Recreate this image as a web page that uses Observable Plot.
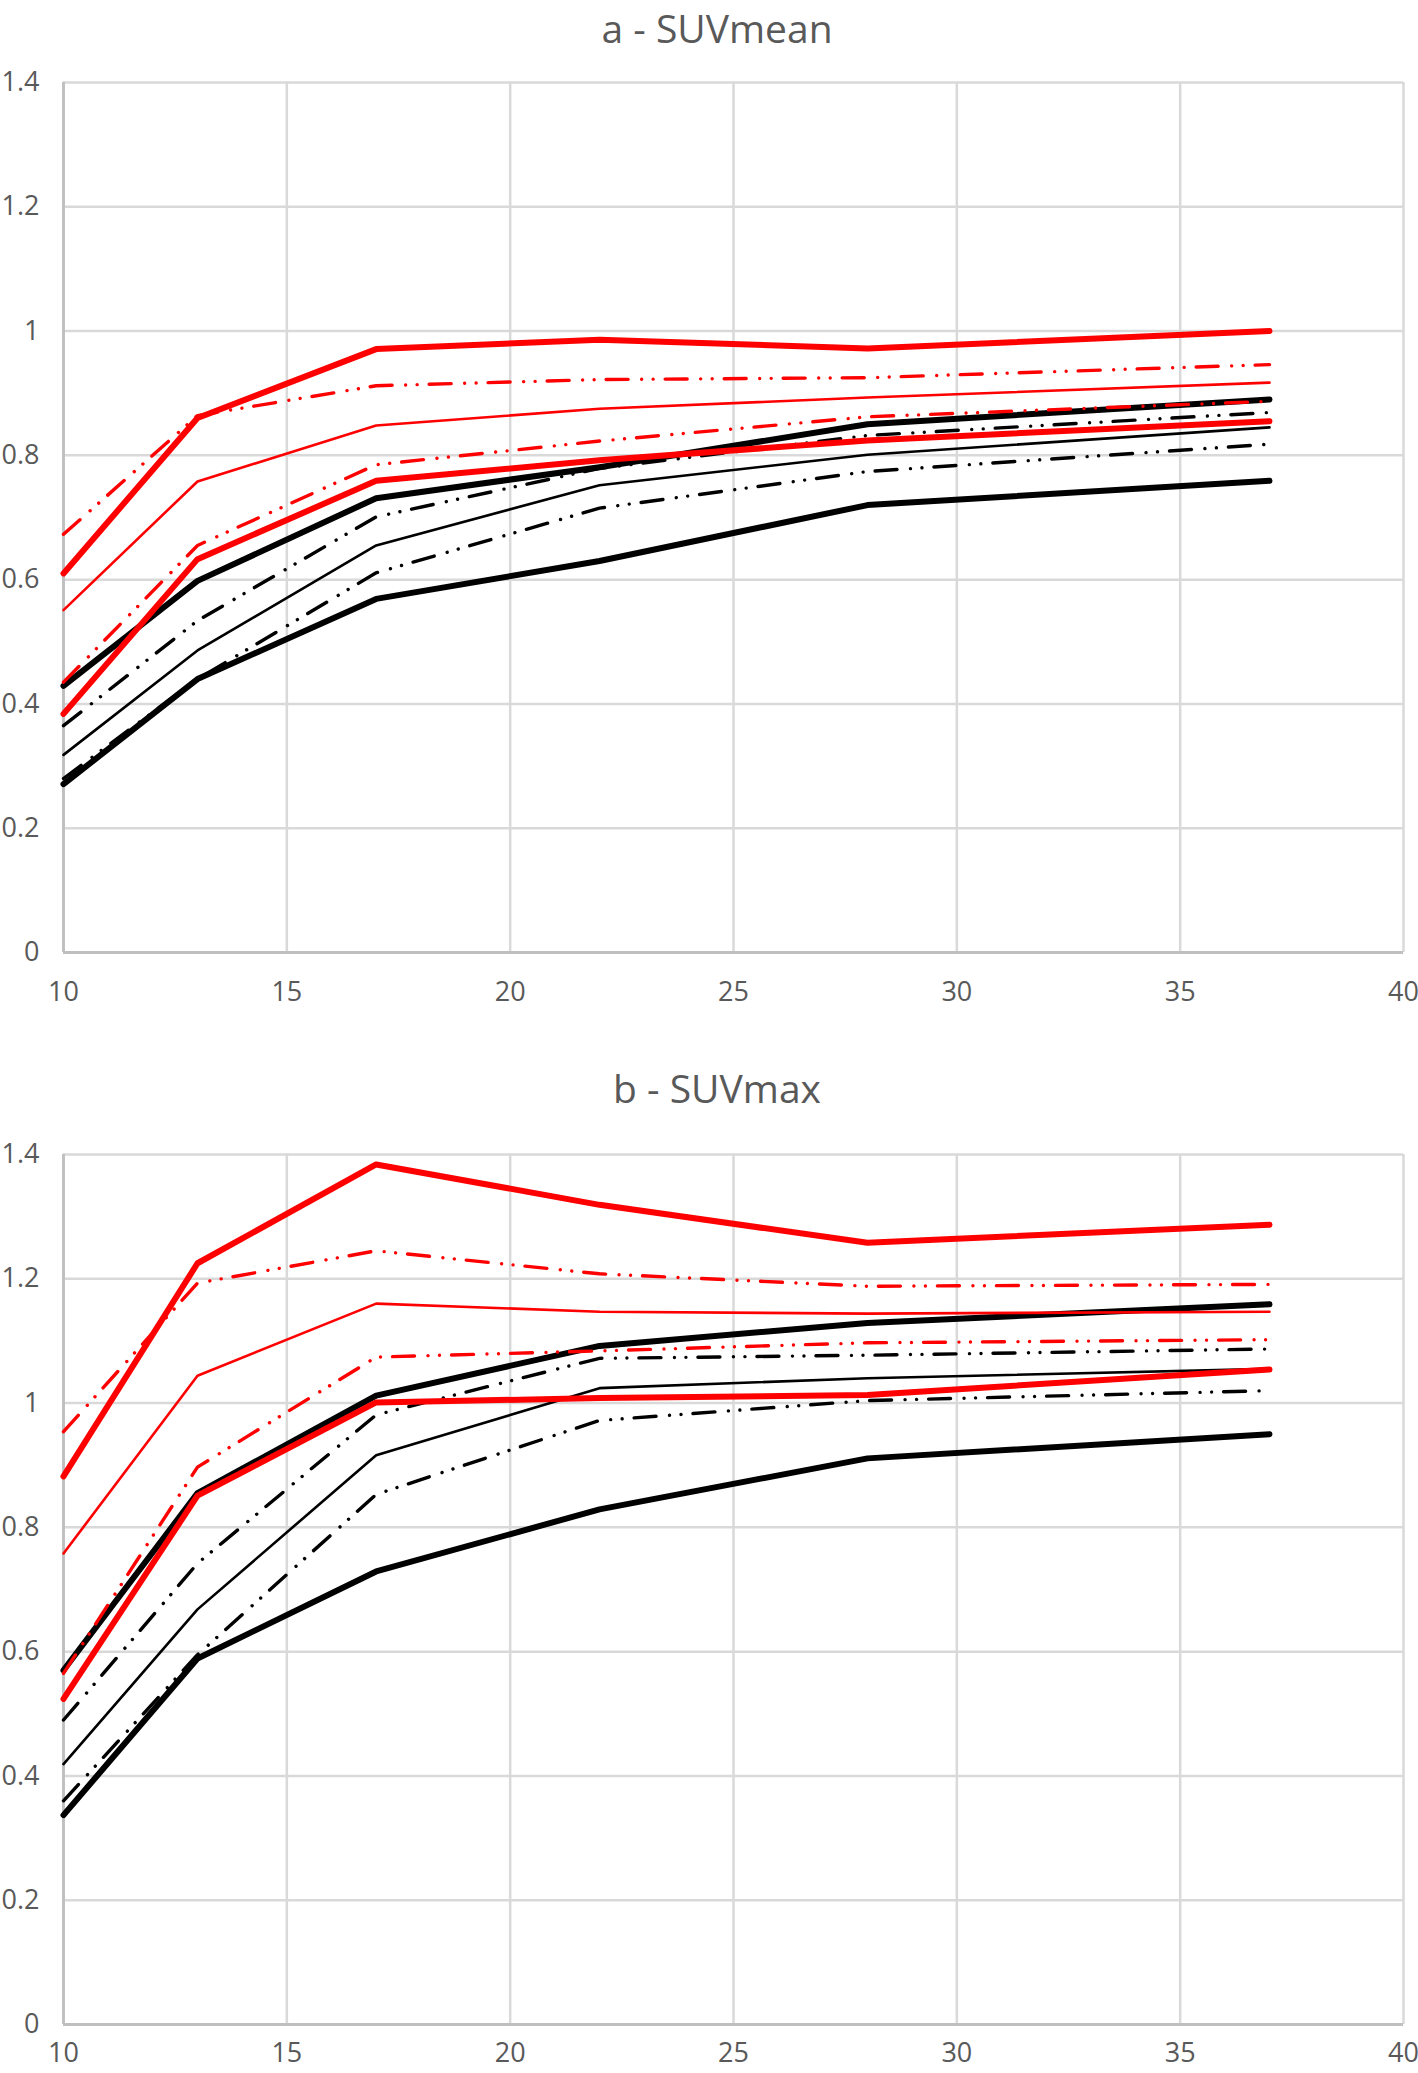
<!DOCTYPE html>
<html>
<head>
<meta charset="utf-8">
<script src="https://cdn.jsdelivr.net/npm/d3@7"></script>
<script src="https://cdn.jsdelivr.net/npm/@observablehq/plot@0.6"></script>
<style>
  html, body { margin: 0; padding: 0; background: #fff; overflow: hidden; }
  #wrap { position: relative; width: 1418px; height: 2073px; font-family: "Open Sans", sans-serif; overflow: hidden; }
  .title { position: absolute; left: 0; width: 1434px; text-align: center; font-size: 39px; line-height: 32px; height: 32px; color: #595959; white-space: nowrap; z-index: 2; }
  .panel { position: absolute; left: 0; z-index: 1; }
</style>
</head>
<body>
<div id="wrap">
  <div class="panel" id="pa" style="top:40px"></div>
  <div class="panel" id="pb" style="top:1112px"></div>
  <div class="title" style="top:12px">a - SUVmean</div>
  <div class="title" style="top:1072px">b - SUVmax</div>
</div>
<script>
// ---------- data ----------
const diameters = [10, 13, 17, 22, 28, 37];
const xTicks = [10, 15, 20, 25, 30, 35, 40];
const yTicks = [0, 0.2, 0.4, 0.6, 0.8, 1, 1.2, 1.4];

// Panel a - SUVmean
const meanRedMax     = [0.610, 0.860, 0.971, 0.986, 0.972, 1.000];
const meanRedUpper   = [0.673, 0.864, 0.912, 0.922, 0.925, 0.946];
const meanRedMid     = [0.551, 0.758, 0.848, 0.875, 0.893, 0.917];
const meanRedLower   = [0.435, 0.655, 0.785, 0.823, 0.862, 0.887];
const meanRedMin     = [0.384, 0.633, 0.759, 0.792, 0.824, 0.855];
const meanBlackMax   = [0.429, 0.598, 0.731, 0.781, 0.850, 0.890];
const meanBlackUpper = [0.365, 0.534, 0.701, 0.779, 0.832, 0.869];
const meanBlackMid   = [0.318, 0.486, 0.655, 0.752, 0.801, 0.845];
const meanBlackLower = [0.280, 0.440, 0.611, 0.715, 0.774, 0.818];
const meanBlackMin   = [0.271, 0.440, 0.569, 0.630, 0.720, 0.759];

// Panel b - SUVmax
const maxRedMax     = [0.882, 1.225, 1.384, 1.319, 1.258, 1.287];
const maxRedUpper   = [0.954, 1.193, 1.245, 1.208, 1.188, 1.191];
const maxRedMid     = [0.758, 1.044, 1.160, 1.147, 1.144, 1.147];
const maxRedLower   = [0.565, 0.897, 1.074, 1.084, 1.097, 1.102];
const maxRedMin     = [0.524, 0.851, 1.001, 1.008, 1.013, 1.054];
const maxBlackMax   = [0.570, 0.855, 1.012, 1.092, 1.129, 1.159];
const maxBlackUpper = [0.490, 0.742, 0.981, 1.072, 1.077, 1.087];
const maxBlackMid   = [0.419, 0.668, 0.916, 1.024, 1.040, 1.055];
const maxBlackLower = [0.360, 0.595, 0.853, 0.972, 1.004, 1.020];
const maxBlackMin   = [0.337, 0.589, 0.729, 0.829, 0.911, 0.950];

// ---------- styles (kept apart from data) ----------
const groupColor = { black: "#000000", red: "#ff0000" };
const kindStyle = {
  outer: { strokeWidth: 6, strokeDasharray: null },
  inner: { strokeWidth: 3.4, strokeDasharray: "22 13.5 0.01 11.5 0.01 12" },
  mid:   { strokeWidth: 2.6, strokeDasharray: null }
};

function seriesList(p) {
  return [
    { group: "black", kind: "outer", values: p.blackMin },
    { group: "black", kind: "inner", values: p.blackLower },
    { group: "black", kind: "mid",   values: p.blackMid },
    { group: "black", kind: "inner", values: p.blackUpper },
    { group: "black", kind: "outer", values: p.blackMax },
    { group: "red",   kind: "outer", values: p.redMin },
    { group: "red",   kind: "inner", values: p.redLower },
    { group: "red",   kind: "mid",   values: p.redMid },
    { group: "red",   kind: "inner", values: p.redUpper },
    { group: "red",   kind: "outer", values: p.redMax }
  ];
}

function makePanel(p, xPad) {
  const lines = seriesList(p).map(s => {
    const rows = diameters.map((d, i) => ({ x: d, y: s.values[i] }));
    const st = kindStyle[s.kind];
    const opts = {
      x: "x", y: "y",
      stroke: groupColor[s.group],
      strokeWidth: st.strokeWidth,
      strokeLinecap: "round",
      strokeLinejoin: "round"
    };
    if (st.strokeDasharray) opts.strokeDasharray = st.strokeDasharray;
    return Plot.line(rows, opts);
  });
  return Plot.plot({
    width: 1418,
    height: 980,
    marginLeft: 63,
    marginRight: 15,
    marginTop: 42,
    marginBottom: 68,
    style: { fontFamily: "'Open Sans', sans-serif", fontSize: "27px", color: "#595959", background: "transparent", overflow: "visible" },
    x: { domain: [xTicks[0], xTicks[xTicks.length - 1]], ticks: xTicks, label: null, tickSize: 0, tickPadding: xPad },
    y: { domain: [yTicks[0], yTicks[yTicks.length - 1]], ticks: yTicks, label: null, tickSize: 0, tickPadding: 24,
         tickFormat: d => String(+d.toFixed(1)) },
    marks: [
      Plot.gridX(xTicks, { stroke: "#d9d9d9", strokeOpacity: 1, strokeWidth: 2.5 }),
      Plot.gridY(yTicks, { stroke: "#d9d9d9", strokeOpacity: 1, strokeWidth: 2.5 }),
      Plot.ruleX([xTicks[0]], { stroke: "#bfbfbf", strokeWidth: 2.8 }),
      Plot.ruleY([yTicks[0]], { stroke: "#bfbfbf", strokeWidth: 2.8 }),
      ...lines
    ]
  });
}

const panelA = {
  redMax: meanRedMax, redUpper: meanRedUpper, redMid: meanRedMid, redLower: meanRedLower, redMin: meanRedMin,
  blackMax: meanBlackMax, blackUpper: meanBlackUpper, blackMid: meanBlackMid, blackLower: meanBlackLower, blackMin: meanBlackMin
};
const panelB = {
  redMax: maxRedMax, redUpper: maxRedUpper, redMid: maxRedMid, redLower: maxRedLower, redMin: maxRedMin,
  blackMax: maxBlackMax, blackUpper: maxBlackUpper, blackMid: maxBlackMid, blackLower: maxBlackLower, blackMin: maxBlackMin
};

document.getElementById("pa").appendChild(makePanel(panelA, 29));
document.getElementById("pb").appendChild(makePanel(panelB, 18));
</script>
</body>
</html>
